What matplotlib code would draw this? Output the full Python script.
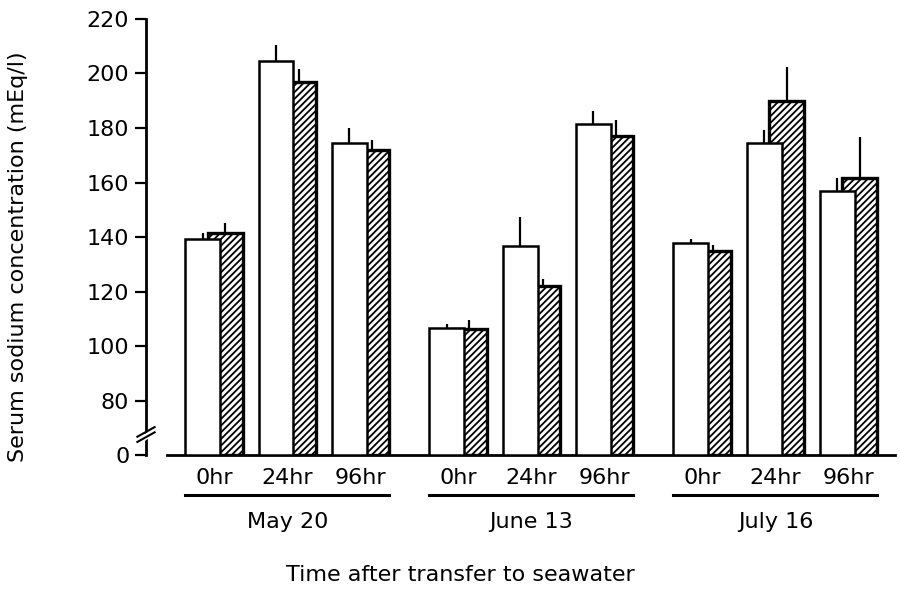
import matplotlib
matplotlib.use("Agg")
import matplotlib.pyplot as plt
from matplotlib.transforms import blended_transform_factory

plt.rcParams['font.family'] = ['DejaVu Sans']
plt.rcParams['hatch.linewidth'] = 1.3

# data
dates = ["May 20", "June 13", "July 16"]
times = ["0hr", "24hr", "96hr"]
white_mean = [[139.2, 204.6, 174.4], [106.6, 136.7, 181.4], [137.8, 174.4, 156.8]]
white_err = [[2.1, 5.7, 5.5], [1.3, 10.5, 4.8], [1.6, 4.9, 4.7]]
hatch_mean = [[141.6, 196.8, 171.9], [106.2, 121.9, 177.1], [134.9, 190.0, 161.5]]
hatch_err = [[3.6, 4.8, 3.7], [3.2, 2.8, 5.8], [2.1, 12.4, 15.1]]
ytick_vals = [60, 80, 100, 120, 140, 160, 180, 200, 220]
ytick_labels = ["0", "80", "100", "120", "140", "160", "180", "200", "220"]
BASE = 60   # axis value drawn as "0" below the break

group_gap = 3.33
width = 0.477
offset = 0.307

fig = plt.figure(figsize=(9, 6.03), dpi=100)
ax = fig.add_axes([0.1622, 0.2454, 0.8322, 0.7231])

for g in range(len(dates)):
    for t in range(len(times)):
        x = g * group_gap + (t - 1)
        hm = hatch_mean[g][t]
        wm = white_mean[g][t]
        ax.bar(x + offset, hm - BASE, width, bottom=BASE, color="white",
               edgecolor="black", hatch="/////", linewidth=2.4, zorder=2)
        ax.vlines(x + offset, hm, hm + hatch_err[g][t], color="black", linewidth=1.6, zorder=2)
        ax.bar(x, wm - BASE, width, bottom=BASE, color="white",
               edgecolor="black", linewidth=1.8, zorder=3)
        ax.vlines(x, wm, wm + white_err[g][t], color="black", linewidth=1.6, zorder=4)

ax.set_xlim(-1.774, 8.445)
ax.set_ylim(BASE, 220)
ax.set_xticks([])
ax.set_yticks(ytick_vals)
ax.set_yticklabels(ytick_labels)
ax.tick_params(axis="y", length=8, width=1.6, labelsize=16, pad=4)

for s in ["top", "right"]:
    ax.spines[s].set_visible(False)
ax.spines["left"].set_linewidth(2.0)
ax.spines["bottom"].set_linewidth(2.0)
ax.spines["bottom"].set_bounds(-1.487, 8.445)

# axis break marks
ax.plot([-0.0115, 0.0115], [0.027, 0.057], transform=ax.transAxes, color="white",
        linewidth=4, clip_on=False, zorder=5)
for dy in [0.0, 0.012]:
    ax.plot([-0.0115, 0.0115], [0.030 + dy, 0.052 + dy], transform=ax.transAxes,
            color="black", linewidth=1.5, clip_on=False, zorder=6)

# group labels below the axis
trans = blended_transform_factory(ax.transData, fig.transFigure)
for g in range(len(dates)):
    for t in range(len(times)):
        x = g * group_gap + (t - 1)
        ax.text(x + offset / 2, 0.2073, times[t], transform=trans, ha="center",
                va="center", fontsize=16)
    left = g * group_gap - 1 - width / 2
    right = g * group_gap + 1 + offset + width / 2
    ax.plot([left, right], [0.179, 0.179], transform=trans, color="black",
            linewidth=2.2, clip_on=False)
    ax.text((left + right) / 2, 0.1343, dates[g], transform=trans, ha="center",
            va="center", fontsize=16)

fig.text(0.511, 0.0464, "Time after transfer to seawater", ha="center", va="center", fontsize=16)
fig.text(0.02, 0.574, "Serum sodium concentration (mEq/l)", rotation=90, ha="center",
         va="center", fontsize=16)

fig.savefig("out.png", dpi=100)
